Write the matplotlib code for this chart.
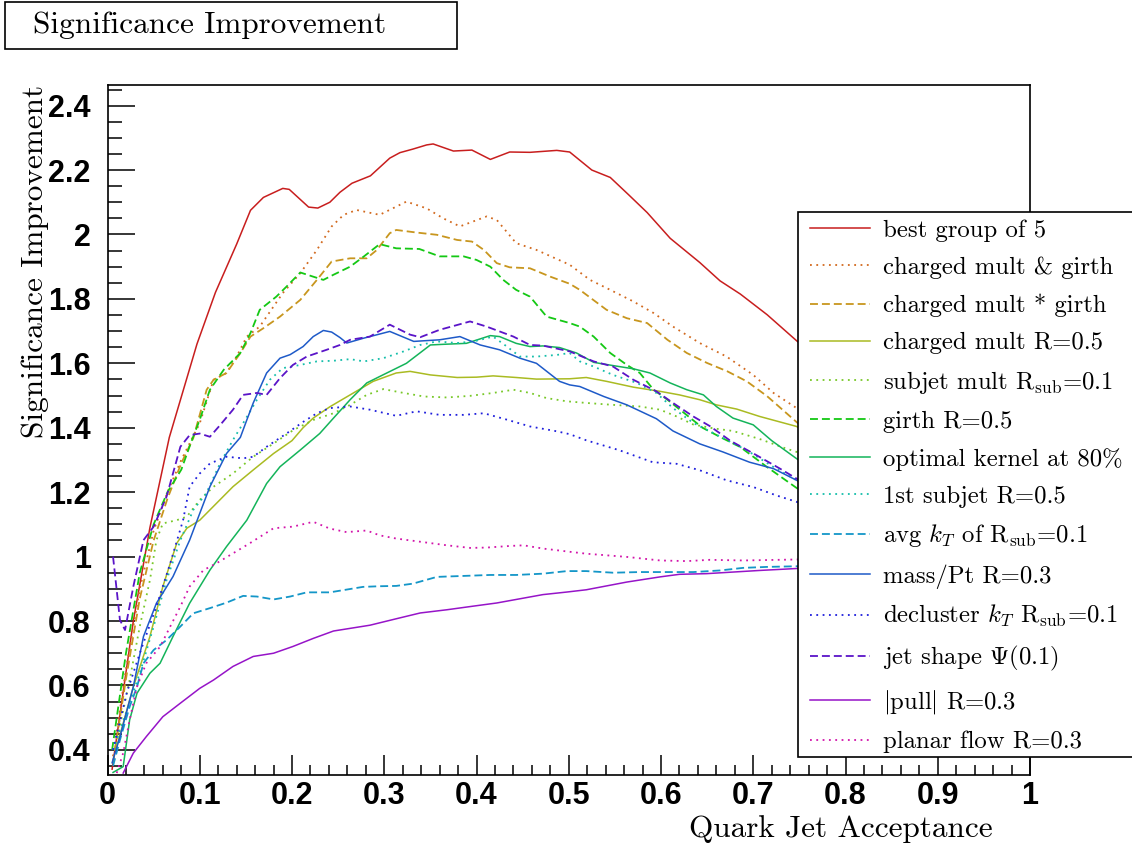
import numpy as np
import matplotlib.pyplot as plt
from matplotlib.patches import Rectangle
from matplotlib.ticker import FuncFormatter

plt.rcParams['font.family'] = ['cmr10', 'DejaVu Serif']
plt.rcParams['mathtext.fontset'] = 'cm'
plt.rcParams['axes.unicode_minus'] = False
plt.rcParams['axes.formatter.use_mathtext'] = True

# ---- data (quark jet acceptance vs significance improvement) ----
best5_x = [0.005, 0.028, 0.046, 0.067, 0.097, 0.117, 0.14, 0.155, 0.169, 0.19, 0.197, 0.218, 0.228, 0.241, 0.252,
           0.265, 0.285, 0.306, 0.317, 0.331, 0.346, 0.353, 0.375, 0.395, 0.415, 0.436, 0.458, 0.487, 0.501, 0.525,
           0.545, 0.565, 0.585, 0.61, 0.642, 0.664, 0.686, 0.715, 0.749, 0.8, 0.85, 0.9, 0.95, 1.0]
best5_y = [0.34, 0.80, 1.09, 1.37, 1.66, 1.82, 1.97, 2.075, 2.115, 2.143, 2.14, 2.085, 2.082, 2.1, 2.131,
           2.159, 2.182, 2.237, 2.254, 2.265, 2.278, 2.281, 2.259, 2.262, 2.233, 2.256, 2.255, 2.261, 2.256, 2.2,
           2.177, 2.123, 2.068, 1.988, 1.913, 1.856, 1.815, 1.751, 1.665, 1.52, 1.38, 1.25, 1.12, 1.0]

cm_and_girth_x = [0.006, 0.02, 0.035, 0.05, 0.065, 0.08, 0.1, 0.115, 0.129, 0.14, 0.151, 0.165, 0.19, 0.209, 0.227,
                  0.243, 0.256, 0.27, 0.295, 0.324, 0.346, 0.364, 0.382, 0.411, 0.422, 0.443, 0.465, 0.501, 0.523,
                  0.545, 0.57, 0.592, 0.613, 0.642, 0.671, 0.7, 0.722, 0.747, 0.8, 0.9, 1.0]
cm_and_girth_y = [0.38, 0.65, 0.9, 1.08, 1.2, 1.3, 1.414, 1.549, 1.57, 1.621, 1.683, 1.714, 1.818, 1.88, 1.952,
                  2.025, 2.061, 2.076, 2.061, 2.102, 2.081, 2.05, 2.025, 2.056, 2.045, 1.973, 1.952, 1.906, 1.859,
                  1.828, 1.792, 1.756, 1.714, 1.663, 1.621, 1.564, 1.508, 1.461, 1.35, 1.17, 1.0]

cm_times_girth_x = [0.006, 0.02, 0.035, 0.05, 0.065, 0.08, 0.093, 0.1075, 0.115, 0.129, 0.144, 0.155, 0.169, 0.187,
                    0.209, 0.227, 0.243, 0.263, 0.281, 0.292, 0.306, 0.313, 0.335, 0.357, 0.379, 0.395, 0.408, 0.422,
                    0.436, 0.458, 0.48, 0.501, 0.512, 0.541, 0.563, 0.585, 0.607, 0.628, 0.65, 0.672, 0.693, 0.715,
                    0.748, 0.8, 0.9, 1.0]
cm_times_girth_y = [0.36, 0.62, 0.87, 1.05, 1.18, 1.29, 1.368, 1.518, 1.549, 1.57, 1.632, 1.683, 1.709, 1.745,
                    1.797, 1.859, 1.916, 1.926, 1.926, 1.952, 2.004, 2.014, 2.006, 1.999, 1.983, 1.978, 1.952, 1.911,
                    1.898, 1.895, 1.869, 1.847, 1.828, 1.766, 1.74, 1.725, 1.673, 1.632, 1.601, 1.575, 1.544, 1.498,
                    1.415, 1.3, 1.13, 1.0]

charged_x = [0.01, 0.028, 0.046, 0.06, 0.075, 0.086, 0.1, 0.118, 0.136, 0.158, 0.18, 0.2, 0.212, 0.223, 0.241,
             0.263, 0.288, 0.313, 0.328, 0.35, 0.379, 0.4, 0.418, 0.443, 0.465, 0.501, 0.519, 0.541, 0.57, 0.599,
             0.62, 0.642, 0.66, 0.682, 0.707, 0.747, 0.8, 0.9, 1.0]
charged_y = [0.41, 0.596, 0.752, 0.907, 1.041, 1.088, 1.113, 1.165, 1.217, 1.269, 1.32, 1.36, 1.40, 1.43, 1.465,
             1.502, 1.544, 1.57, 1.575, 1.564, 1.556, 1.557, 1.561, 1.556, 1.551, 1.552, 1.556, 1.544, 1.526, 1.513,
             1.502, 1.487, 1.471, 1.458, 1.435, 1.404, 1.3, 1.15, 1.0]

subjet_mult_x = [0.008, 0.024, 0.035, 0.046, 0.053, 0.06, 0.075, 0.086, 0.1, 0.115, 0.136, 0.158, 0.18, 0.201,
                 0.223, 0.245, 0.263, 0.281, 0.299, 0.321, 0.343, 0.368, 0.393, 0.418, 0.44, 0.458, 0.476, 0.498,
                 0.519, 0.548, 0.577, 0.599, 0.617, 0.635, 0.657, 0.678, 0.707, 0.736, 0.747, 0.8, 0.9, 1.0]
subjet_mult_y = [0.4, 0.617, 0.783, 0.927, 1.051, 1.103, 1.113, 1.124, 1.176, 1.217, 1.258, 1.31, 1.351, 1.392,
                 1.424, 1.445, 1.471, 1.502, 1.52, 1.508, 1.497, 1.494, 1.499, 1.508, 1.518, 1.508, 1.492, 1.482,
                 1.477, 1.471, 1.466, 1.456, 1.435, 1.41, 1.398, 1.39, 1.365, 1.335, 1.325, 1.25, 1.12, 1.0]

girth_x = [0.005, 0.02, 0.035, 0.05, 0.065, 0.08, 0.09, 0.1, 0.111, 0.126, 0.144, 0.155, 0.165, 0.183, 0.194,
           0.209, 0.223, 0.234, 0.245, 0.263, 0.278, 0.295, 0.313, 0.338, 0.36, 0.386, 0.4, 0.415, 0.429, 0.443,
           0.458, 0.476, 0.501, 0.512, 0.527, 0.545, 0.563, 0.577, 0.592, 0.607, 0.625, 0.645, 0.665, 0.686,
           0.715, 0.748, 0.8, 0.9, 1.0]
girth_y = [0.4, 0.7, 0.95, 1.1, 1.2, 1.27, 1.35, 1.425, 1.518, 1.58, 1.632, 1.694, 1.766, 1.807, 1.838,
           1.882, 1.869, 1.859, 1.875, 1.9, 1.932, 1.97, 1.957, 1.955, 1.932, 1.932, 1.921, 1.9, 1.859, 1.828,
           1.807, 1.745, 1.725, 1.714, 1.683, 1.632, 1.595, 1.57, 1.518, 1.487, 1.446, 1.4, 1.37, 1.34,
           1.278, 1.211, 1.12, 1.05, 1.0]

kernel_x = [0.006, 0.017, 0.024, 0.032, 0.046, 0.057, 0.071, 0.089, 0.111, 0.129, 0.151, 0.1725, 0.187, 0.209,
            0.23, 0.245, 0.263, 0.281, 0.295, 0.324, 0.35, 0.364, 0.389, 0.415, 0.425, 0.443, 0.458, 0.472, 0.49,
            0.5085, 0.527, 0.548, 0.57, 0.588, 0.61, 0.628, 0.646, 0.66, 0.678, 0.7, 0.72, 0.747, 0.8, 0.9, 1.0]
kernel_y = [0.33, 0.348, 0.493, 0.576, 0.638, 0.669, 0.752, 0.855, 0.958, 1.031, 1.113, 1.227, 1.279, 1.331,
            1.382, 1.43, 1.487, 1.539, 1.559, 1.6, 1.657, 1.659, 1.662, 1.686, 1.683, 1.662, 1.652, 1.654, 1.649,
            1.632, 1.603, 1.593, 1.583, 1.57, 1.539, 1.518, 1.502, 1.466, 1.43, 1.409, 1.36, 1.304, 1.2, 1.08, 1.0]

first_subjet_x = [0.006, 0.02, 0.035, 0.05, 0.064, 0.079, 0.093, 0.107, 0.122, 0.136, 0.147, 0.162, 0.176, 0.19,
                  0.209, 0.227, 0.245, 0.263, 0.278, 0.299, 0.321, 0.339, 0.357, 0.379, 0.397, 0.418, 0.433, 0.447,
                  0.465, 0.487, 0.501, 0.512, 0.527, 0.548, 0.574, 0.595, 0.613, 0.635, 0.657, 0.693, 0.722, 0.747,
                  0.8, 0.9, 1.0]
first_subjet_y = [0.4, 0.514, 0.638, 0.783, 0.927, 1.051, 1.145, 1.196, 1.289, 1.362, 1.414, 1.487, 1.549, 1.585,
                  1.595, 1.606, 1.608, 1.613, 1.606, 1.616, 1.637, 1.657, 1.668, 1.663, 1.668, 1.683, 1.652, 1.621,
                  1.621, 1.626, 1.632, 1.606, 1.59, 1.564, 1.539, 1.508, 1.461, 1.415, 1.383, 1.33, 1.278, 1.237,
                  1.15, 1.06, 1.0]

avg_kt_x = [0.006, 0.0135, 0.024, 0.032, 0.039, 0.05, 0.064, 0.079, 0.093, 0.111, 0.129, 0.147, 0.162, 0.18, 0.198,
            0.216, 0.241, 0.277, 0.295, 0.313, 0.331, 0.357, 0.386, 0.415, 0.443, 0.472, 0.498, 0.519, 0.548,
            0.577, 0.606, 0.635, 0.664, 0.689, 0.715, 0.747, 0.8, 0.9, 1.0]
avg_kt_y = [0.35, 0.431, 0.534, 0.596, 0.669, 0.71, 0.741, 0.783, 0.824, 0.84, 0.857, 0.878, 0.876, 0.867, 0.876,
            0.889, 0.889, 0.906, 0.908, 0.909, 0.916, 0.937, 0.94, 0.943, 0.943, 0.947, 0.955, 0.955, 0.95,
            0.952, 0.952, 0.952, 0.957, 0.965, 0.968, 0.97, 0.98, 0.99, 1.0]

mass_pt_x = [0.005, 0.0135, 0.028, 0.039, 0.053, 0.071, 0.089, 0.111, 0.129, 0.144, 0.151, 0.158, 0.1725, 0.187,
             0.198, 0.212, 0.223, 0.234, 0.243, 0.252, 0.2594, 0.2776, 0.306, 0.332, 0.36, 0.382, 0.404, 0.425,
             0.447, 0.465, 0.49, 0.501, 0.512, 0.538, 0.563, 0.595, 0.613, 0.642, 0.667, 0.696, 0.722, 0.747,
             0.8, 0.9, 1.0]
mass_pt_y = [0.36, 0.441, 0.596, 0.752, 0.855, 0.938, 1.051, 1.217, 1.32, 1.37, 1.424, 1.477, 1.57, 1.616,
             1.627, 1.652, 1.683, 1.702, 1.697, 1.68, 1.663, 1.678, 1.699, 1.668, 1.673, 1.683, 1.657, 1.642,
             1.616, 1.6, 1.544, 1.533, 1.528, 1.497, 1.471, 1.428, 1.39, 1.35, 1.325, 1.293, 1.273, 1.237,
             1.15, 1.06, 1.0]

decluster_x = [0.006, 0.0208, 0.035, 0.053, 0.068, 0.082, 0.089, 0.1, 0.111, 0.129, 0.147, 0.158, 0.1725, 0.194,
               0.212, 0.227, 0.241, 0.263, 0.2845, 0.313, 0.335, 0.36, 0.386, 0.408, 0.433, 0.458, 0.487, 0.501,
               0.519, 0.555, 0.591, 0.617, 0.642, 0.671, 0.7, 0.725, 0.747, 0.8, 0.9, 1.0]
decluster_y = [0.4, 0.576, 0.7, 0.845, 0.979, 1.114, 1.217, 1.258, 1.289, 1.31, 1.305, 1.31, 1.341, 1.382,
               1.418, 1.445, 1.461, 1.466, 1.456, 1.437, 1.451, 1.44, 1.44, 1.445, 1.425, 1.404, 1.389, 1.38,
               1.361, 1.33, 1.293, 1.288, 1.268, 1.237, 1.216, 1.19, 1.17, 1.1, 1.03, 1.0]

jet_shape_x = [0.006, 0.0135, 0.019, 0.028, 0.039, 0.05, 0.064, 0.079, 0.089, 0.1, 0.111, 0.122, 0.136, 0.147,
               0.162, 0.1725, 0.187, 0.201, 0.216, 0.2375, 0.252, 0.263, 0.2845, 0.306, 0.328, 0.339, 0.36, 0.393,
               0.411, 0.44, 0.458, 0.472, 0.501, 0.527, 0.548, 0.57, 0.595, 0.613, 0.635, 0.653, 0.675, 0.704,
               0.729, 0.747, 0.8, 0.9, 1.0]
jet_shape_y = [1.0, 0.803, 0.772, 0.907, 1.051, 1.093, 1.186, 1.341, 1.377, 1.382, 1.372, 1.408, 1.456, 1.502,
               1.508, 1.502, 1.554, 1.595, 1.621, 1.642, 1.657, 1.673, 1.683, 1.72, 1.689, 1.681, 1.704, 1.73,
               1.714, 1.683, 1.657, 1.655, 1.637, 1.606, 1.59, 1.549, 1.513, 1.477, 1.435, 1.405, 1.36, 1.314,
               1.273, 1.242, 1.15, 1.05, 1.0]

pull_x = [0.017, 0.028, 0.042, 0.06, 0.079, 0.1, 0.115, 0.136, 0.158, 0.18, 0.201, 0.223, 0.245, 0.2845, 0.313,
          0.339, 0.368, 0.396, 0.422, 0.447, 0.472, 0.498, 0.519, 0.563, 0.599, 0.62, 0.649, 0.678, 0.707, 0.747,
          0.8, 0.9, 1.0]
pull_y = [0.328, 0.39, 0.441, 0.503, 0.545, 0.591, 0.617, 0.659, 0.69, 0.7, 0.721, 0.746, 0.769, 0.787, 0.807,
          0.825, 0.835, 0.846, 0.856, 0.869, 0.882, 0.89, 0.897, 0.921, 0.937, 0.945, 0.947, 0.952, 0.957, 0.963,
          0.975, 0.99, 1.0]

planar_x = [0.01, 0.017, 0.024, 0.032, 0.042, 0.057, 0.068, 0.079, 0.089, 0.104, 0.118, 0.136, 0.154, 0.18, 0.201,
            0.223, 0.241, 0.259, 0.281, 0.295, 0.313, 0.342, 0.368, 0.393, 0.411, 0.436, 0.451, 0.472, 0.498, 0.519,
            0.563, 0.599, 0.628, 0.653, 0.689, 0.747, 0.8, 0.9, 1.0]
planar_y = [0.328, 0.39, 0.493, 0.596, 0.669, 0.72, 0.783, 0.845, 0.907, 0.958, 0.979, 1.01, 1.041, 1.088, 1.093,
            1.108, 1.087, 1.076, 1.081, 1.066, 1.056, 1.045, 1.035, 1.027, 1.028, 1.033, 1.035, 1.025, 1.016, 1.009,
            0.999, 0.988, 0.986, 0.99, 0.988, 0.991, 0.995, 1.0, 1.0]

labels = ['best group of 5', 'charged mult & girth', 'charged mult * girth', 'charged mult R=0.5',
          r'subjet mult R$_{\rm sub}$=0.1', 'girth R=0.5', 'optimal kernel at 80%', '1st subjet R=0.5',
          r'avg $k_T$ of R$_{\rm sub}$=0.1', 'mass/Pt R=0.3', r'decluster $k_T$ R$_{\rm sub}$=0.1',
          r'jet shape $\Psi$(0.1)', r'$|$pull$|$ R=0.3', 'planar flow R=0.3']

series = [(best5_x, best5_y), (cm_and_girth_x, cm_and_girth_y), (cm_times_girth_x, cm_times_girth_y),
          (charged_x, charged_y), (subjet_mult_x, subjet_mult_y), (girth_x, girth_y), (kernel_x, kernel_y),
          (first_subjet_x, first_subjet_y), (avg_kt_x, avg_kt_y), (mass_pt_x, mass_pt_y),
          (decluster_x, decluster_y), (jet_shape_x, jet_shape_y), (pull_x, pull_y), (planar_x, planar_y)]

colors = ['#c81e1e', '#d2691e', '#c8961e', '#aabb22', '#78c828', '#14c814', '#14b45a',
          '#14beaa', '#1496c8', '#1e5ac8', '#1e1edc', '#5a14c8', '#9614c8', '#d214aa']
SOLID, DOT, DASH = '-', (0, (1, 2.5)), (0, (4.4, 2.2))
styles = [SOLID, DOT, DASH, SOLID, DOT, DASH, SOLID, DOT, DASH, SOLID, DOT, DASH, SOLID, DOT]

W, H = 1132, 851
fig = plt.figure(figsize=(W / 100, H / 100), dpi=100)
ax = fig.add_axes([107.5 / W, 1 - 775 / H, (1030 - 107.5) / W, (775 - 85) / H])

for (x, y), lab, c, ls in zip(series, labels, colors, styles):
    lw = 1.1 if ls == SOLID else 1.3
    ax.plot(x, y, color=c, linestyle=ls, lw=lw, label=lab)

ax.set_xlim(0, 1)
ax.set_ylim(0.322, 2.464)
ax.set_xticks(np.arange(0, 1.01, 0.1))
ax.set_xticks(np.arange(0, 1.001, 0.02), minor=True)
ax.set_yticks(np.arange(0.4, 2.41, 0.2))
ax.set_yticks(np.arange(0.35, 2.46, 0.05), minor=True)
fmt = FuncFormatter(lambda v, p: f'{v:g}')
ax.xaxis.set_major_formatter(fmt)
ax.yaxis.set_major_formatter(fmt)

ax.tick_params(axis='y', which='major', direction='in', length=19.5, width=1.1, pad=12)
ax.tick_params(axis='y', which='minor', direction='in', length=10, width=1.1)
ax.tick_params(axis='x', which='major', direction='in', length=14.5, width=1.1, pad=4)
ax.tick_params(axis='x', which='minor', direction='in', length=7.5, width=1.1)
ax.tick_params(which='both', top=False, right=False, labelsize=22)
for lbl in ax.get_xticklabels() + ax.get_yticklabels():
    lbl.set_fontfamily('Liberation Sans')
    lbl.set_fontweight('bold')
for sp in ax.spines.values():
    sp.set_linewidth(1.2)

# title box
fig.add_artist(Rectangle((5 / W, 1 - 49 / H), 452 / W, 47 / H, transform=fig.transFigure,
                         facecolor='white', edgecolor='black', lw=1.2))
fig.text(33 / W, 1 - 25.5 / H, 'Significance Improvement', fontsize=22.5, va='center', ha='left')

fig.text(35 / W, 1 - 85 / H, 'Significance Improvement', fontsize=22.5, rotation=90, ha='center', va='top')
fig.text(993 / W, 1 - 829 / H, 'Quark Jet Acceptance', fontsize=22.5, ha='right', va='center')

# legend box runs off the right edge of the canvas, as in the original
fig.add_artist(Rectangle((798 / W, 1 - 757 / H), 360 / W, 545 / H, transform=fig.transFigure,
                         facecolor='white', edgecolor='black', lw=1.2, zorder=4))
handles, labs = ax.get_legend_handles_labels()
leg = fig.legend(handles, labs, loc='upper left', bbox_to_anchor=(798 / W, 1 - 207 / H),
                 bbox_transform=fig.transFigure, frameon=False, fontsize=17.8,
                 handlelength=2.4, handletextpad=0.55, labelspacing=0.595,
                 borderpad=0.5, borderaxespad=0)
leg.set_zorder(5)

fig.savefig('out.png', dpi=100)
